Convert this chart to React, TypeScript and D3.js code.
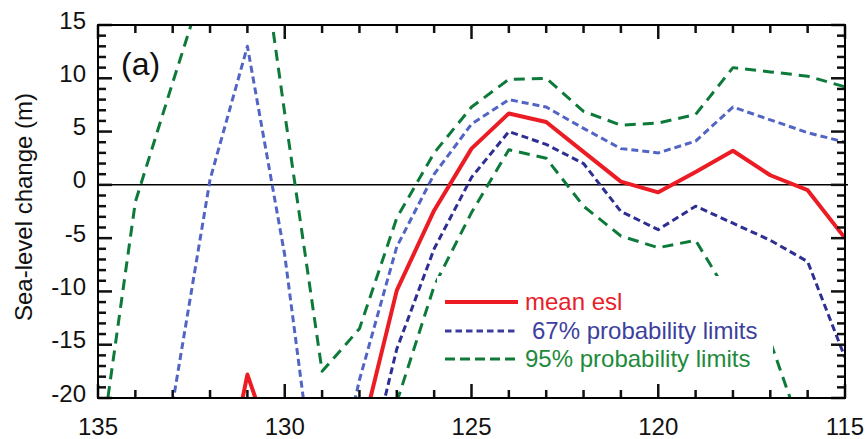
import React from "react";
import * as d3 from "d3";

// ages (ka), read left to right
const ages = [135, 134, 133, 132, 131, 130, 129, 128, 127, 126, 125, 124, 123, 122, 121, 120, 119, 118, 117, 116, 115];

// sea-level change (m); null = not drawn
const meanEsl = [null, null, null, -35, -17.8, -28, -30, -24.2, -9.9, -2.4, 3.4, 6.7, 5.9, 3.1, 0.3, -0.7, 1.2, 3.2, 0.9, -0.5, -5.0];
const upper67 = [null, null, -20.5, 0.5, 13.0, -6.6, -33.6, -18.3, -5.8, 1.0, 5.7, 8.0, 7.3, 5.3, 3.4, 3.0, 4.1, 7.3, 6.1, 4.9, 4.0];
const lower67 = [null, null, null, null, null, null, null, -29.8, -15.4, -6.0, 0.7, 5.0, 3.8, 2.0, -2.5, -4.2, -2.0, -3.6, -5.2, -7.2, -16.2];
const upper95 = [-26.6, -1.6, 9.6, 20.6, 31.7, 6.7, -17.5, -13.5, -3.1, 3.0, 7.3, 9.9, 10.0, 6.9, 5.6, 5.8, 6.6, 11.0, 10.6, 10.2, 9.2];
const lower95 = [null, null, null, null, null, null, null, null, -20.4, -9.5, -2.6, 3.3, 2.5, -2.0, -4.8, -5.9, -5.2, -11.0, -14.7, -24.7, null];

const xTickLabels = [135, 130, 125, 120, 115];
const yTickLabels = [-20, -15, -10, -5, 0, 5, 10, 15];

const legendItems = [
  { label: "mean esl", color: "#ec1c24", text: "#e8202a", dash: null, width: 4 },
  { label: "67% probability limits", color: "#3a3d9c", text: "#3d3f9e", dash: "6.5 4", width: 3 },
  { label: "95% probability limits", color: "#0f7a3a", text: "#1f8a3c", dash: "10 5", width: 3 },
];

const FONT = "'Liberation Sans', Arial, sans-serif";

export default function App() {
  const left = 98, right = 845, top = 25, bottom = 398;
  const x = d3.scaleLinear().domain([135, 115]).range([left, right]);
  const y = d3.scaleLinear().domain([-20, 15]).range([bottom, top]);

  const line = d3
    .line<[number, number | null]>()
    .defined((d) => d[1] != null)
    .x((d) => x(d[0]))
    .y((d) => y(d[1] as number));
  const pts = (vals: (number | null)[]) => ages.map((a, i) => [a, vals[i]] as [number, number | null]);

  const xMinor = d3.range(115, 136, 1);
  const yMinor = d3.range(-20, 16, 1);

  const series = [
    { vals: upper95, color: "#0d7a3a", dash: "11 7", w: 3 },
    { vals: lower95, color: "#0d7a3a", dash: "11 7", w: 3 },
    { vals: upper67, color: "#5264c4", dash: "7 4", w: 3 },
    { vals: lower67, color: "#2e2f92", dash: "7 4", w: 3 },
    { vals: meanEsl, color: "#ec1c24", dash: null, w: 4 },
  ];

  return (
    <svg width={867} height={439} style={{ position: "absolute", left: 0, top: 0, background: "#fff" }}>
      <defs>
        <clipPath id="plot">
          <rect x={left} y={top} width={right - left} height={bottom - top} />
        </clipPath>
      </defs>

      {/* zero line */}
      <line x1={left} x2={right + 3} y1={y(0)} y2={y(0)} stroke="#000" strokeWidth={1.5} />

      <g clipPath="url(#plot)">
        {series.map((s, i) => (
          <path
            key={i}
            d={line(pts(s.vals)) || ""}
            fill="none"
            stroke={s.color}
            strokeWidth={s.w}
            strokeDasharray={s.dash || undefined}
            strokeLinejoin="round"
          />
        ))}
      </g>

      {/* legend */}
      <rect x={437} y={276} width={336} height={108} fill="#fff" />
      {legendItems.map((it, i) => {
        const ly = [302, 331, 359][i];
        const tx = [525, 532, 525][i];
        return (
          <g key={it.label}>
            <line x1={445} x2={518} y1={ly} y2={ly} stroke={it.color} strokeWidth={it.width} strokeDasharray={it.dash || undefined} />
            <text x={tx} y={ly + 8} fontSize={24} fill={it.text} fontFamily={FONT}>
              {it.label}
            </text>
          </g>
        );
      })}

      {/* inside ticks as small filled bars, long ones every 5 */}
      <g fill="#111">
        {xMinor.map((t) => {
          const len = t % 5 === 0 ? 14 : 8;
          return (
            <g key={"xt" + t}>
              <rect x={x(t) - 1.25} y={bottom - len} width={2.5} height={len} />
              <rect x={x(t) - 1.25} y={top} width={2.5} height={len} />
            </g>
          );
        })}
        {yMinor.map((t) => {
          const len = Math.abs(t) % 5 === 0 ? 14 : 8;
          return (
            <g key={"yt" + t}>
              <rect x={left} y={y(t) - 1.25} width={len} height={2.5} />
              <rect x={right - len} y={y(t) - 1.25} width={len} height={2.5} />
            </g>
          );
        })}
      </g>
      <rect x={left} y={top} width={right - left} height={bottom - top} fill="none" stroke="#000" strokeWidth={2} />

      {xTickLabels.map((t) => (
        <text key={t} x={x(t)} y={435} textAnchor="middle" fontSize={24} fill="#111" fontFamily={FONT}>
          {t}
        </text>
      ))}
      {yTickLabels.map((t) => (
        <text key={t} x={86} y={y(t) + 3.6} textAnchor="end" fontSize={24} fill="#111" fontFamily={FONT}>
          {t}
        </text>
      ))}

      <text transform="translate(32,207) rotate(-90)" textAnchor="middle" fontSize={24} fill="#111" fontFamily={FONT}>
        Sea-level change (m)
      </text>
      <text x={121} y={75} fontSize={32} fill="#111" fontFamily={FONT}>
        (a)
      </text>
    </svg>
  );
}
